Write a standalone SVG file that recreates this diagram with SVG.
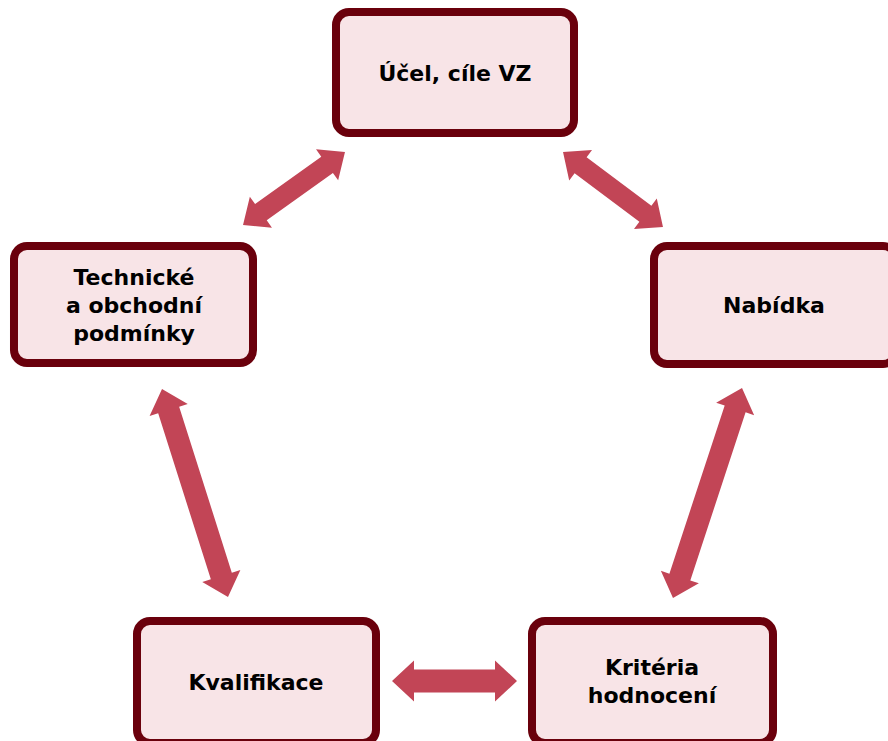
<svg xmlns="http://www.w3.org/2000/svg" width="888" height="741" viewBox="0 0 888 741">
<style>
.box{fill:#F8E4E7;stroke:#6A000C;stroke-width:8}
.lbl{font-family:"DejaVu Sans","Liberation Sans",sans-serif;font-weight:bold;font-size:22px;fill:#000;text-anchor:middle}
.arr{fill:#C24556}
</style>
<rect width="888" height="741" fill="#fff"/>
<g id="connectors">
<polygon class="arr" transform="translate(294,188.5) rotate(-35.6)" points="-62.7,0 -40.7,-19 -40.7,-10 40.7,-10 40.7,-19 62.7,0 40.7,19 40.7,10 -40.7,10 -40.7,19"/>
<polygon class="arr" transform="translate(613,189.5) rotate(36.9)" points="-62.5,0 -40.5,-19 -40.5,-10 40.5,-10 40.5,-19 62.5,0 40.5,19 40.5,10 -40.5,10 -40.5,19"/>
<polygon class="arr" transform="translate(195,493) rotate(72.4)" points="-109.1,0 -87.1,-20 -87.1,-11 87.1,-11 87.1,-20 109.1,0 87.1,20 87.1,11 -87.1,11 -87.1,20"/>
<polygon class="arr" transform="translate(707.5,493) rotate(108.2)" points="-110.5,0 -88.5,-20 -88.5,-11 88.5,-11 88.5,-20 110.5,0 88.5,20 88.5,11 -88.5,11 -88.5,20"/>
<polygon class="arr" transform="translate(454.5,681)" points="-62.5,0 -40.5,-20.5 -40.5,-11.5 40.5,-11.5 40.5,-20.5 62.5,0 40.5,20.5 40.5,11.5 -40.5,11.5 -40.5,20.5"/>
</g>
<g id="ucel">
<rect class="box" x="336" y="12" width="238" height="121" rx="13"/>
<text class="lbl" x="455" y="81">Účel, cíle VZ</text>
</g>
<g id="technicke">
<rect class="box" x="14" y="246" width="239" height="117" rx="13"/>
<text class="lbl" x="134" y="285">Technické</text>
<text class="lbl" x="134" y="313">a obchodní</text>
<text class="lbl" x="134" y="341">podmínky</text>
</g>
<g id="nabidka">
<rect class="box" x="654" y="246" width="242" height="118" rx="13"/>
<text class="lbl" x="774" y="313">Nabídka</text>
</g>
<g id="kvalifikace">
<rect class="box" x="137" y="621" width="239" height="122" rx="13"/>
<text class="lbl" x="256" y="690">Kvalifikace</text>
</g>
<g id="kriteria">
<rect class="box" x="532" y="621" width="241" height="122" rx="13"/>
<text class="lbl" x="652" y="675">Kritéria</text>
<text class="lbl" x="652" y="703">hodnocení</text>
</g>
</svg>
